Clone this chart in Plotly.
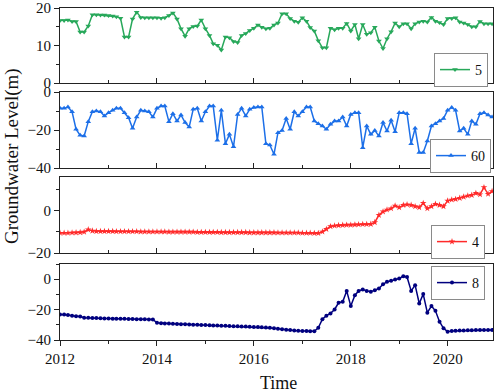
import pandas as pd
import plotly.graph_objects as go

dates = pd.date_range("2012-01-01", periods=108, freq="MS")

well_names = ["5", "60", "4", "8"]

lvl_5 = [16.7, 16.7, 16.8, 16.4, 16.4, 13.6, 13.6, 15.2, 18.2, 18.2,
         18.1, 18.1, 18.0, 17.9, 17.7, 17.3, 12.3, 12.3, 17.1, 18.9,
         17.5, 17.4, 17.4, 17.4, 17.4, 17.3, 17.4, 18.0, 18.7, 17.1,
         14.5, 12.5, 14.5, 15.1, 15.2, 16.8, 14.5, 12.7, 10.5, 10.1,
         8.8, 12.3, 12.1, 11.1, 10.8, 12.7, 13.2, 14.0, 14.6, 15.5,
         14.9, 14.5, 14.6, 15.5, 16.0, 18.5, 18.5, 17.2, 16.5, 16.2,
         17.4, 16.5, 14.8, 13.9, 11.3, 9.4, 9.4, 14.6, 14.2, 14.6,
         14.6, 15.9, 13.9, 15.6, 11.8, 15.6, 13.0, 13.4, 14.9, 11.2,
         9.2, 11.8, 13.7, 16.0, 15.0, 15.8, 15.8, 14.5, 15.8, 16.3,
         16.5, 16.3, 17.5, 16.5, 16.1, 15.6, 17.2, 17.2, 17.4, 16.3,
         16.0, 15.6, 15.0, 15.0, 16.4, 15.8, 15.8, 15.8]

lvl_60 = [-8.6, -8.6, -7.9, -10.4, -19.6, -22.8, -23.2, -15.6, -10.4, -10.0,
          -10.4, -12.6, -10.9, -9.6, -8.6, -8.6, -10.9, -13.5, -19.1, -13.2,
          -9.6, -10.0, -10.4, -13.2, -8.6, -7.4, -7.4, -15.6, -11.4, -15.3,
          -12.1, -16.1, -18.4, -9.1, -8.6, -15.3, -10.4, -7.4, -7.4, -25.4,
          -9.6, -27.2, -22.3, -28.8, -11.8, -8.6, -12.6, -9.1, -8.2, -7.9,
          -7.9, -27.2, -27.9, -32.8, -21.4, -20.2, -13.9, -19.6, -10.4, -12.6,
          -10.4, -7.9, -7.9, -15.3, -16.7, -17.9, -19.6, -17.0, -15.3, -15.3,
          -13.2, -17.9, -11.8, -10.9, -10.9, -29.3, -17.9, -22.3, -20.2, -23.2,
          -16.1, -20.5, -14.9, -20.9, -10.9, -10.9, -11.4, -27.2, -19.1, -31.9,
          -31.9, -25.8, -17.9, -16.7, -15.3, -13.9, -9.6, -8.2, -9.6, -20.5,
          -19.1, -22.3, -15.3, -17.0, -11.4, -10.9, -12.1, -13.2]

lvl_4 = [-10.6, -10.6, -10.6, -10.5, -10.4, -10.3, -10.1, -9.0, -9.6, -9.8,
         -9.8, -9.8, -9.8, -9.8, -9.9, -9.9, -9.9, -9.9, -9.9, -9.9,
         -10.0, -10.0, -10.0, -10.0, -10.0, -10.0, -10.0, -10.1, -10.1, -10.1,
         -10.1, -10.1, -10.1, -10.1, -10.2, -10.2, -10.2, -10.2, -10.2, -10.2,
         -10.3, -10.3, -10.3, -10.3, -10.3, -10.3, -10.3, -10.4, -10.4, -10.4,
         -10.4, -10.4, -10.4, -10.4, -10.5, -10.5, -10.5, -10.5, -10.5, -10.5,
         -10.6, -10.6, -10.6, -10.7, -10.7, -10.0, -8.8, -7.5, -7.2, -7.0,
         -6.9, -6.8, -6.8, -6.7, -6.6, -6.5, -6.5, -6.4, -5.6, -2.2,
         -0.6, 0.3, 0.9, 2.2, 1.4, 2.5, 2.8, 2.5, 1.9, 1.4,
         3.4, 0.9, 1.9, 3.0, 2.5, 1.9, 4.5, 5.0, 5.3, 5.8,
         6.4, 6.9, 7.2, 8.1, 7.5, 10.8, 7.7, 9.0]

lvl_8 = [-23.2, -23.2, -23.5, -24.0, -24.3, -24.5, -25.4, -25.4, -25.5, -25.6,
         -25.7, -25.8, -25.9, -26.0, -26.0, -26.0, -26.1, -26.2, -26.2, -26.3,
         -26.4, -26.4, -26.5, -26.5, -28.7, -29.0, -29.1, -29.2, -29.3, -29.5,
         -29.6, -29.7, -29.8, -29.9, -30.0, -30.1, -30.2, -30.3, -30.4, -30.5,
         -30.6, -30.7, -30.8, -30.9, -31.0, -31.1, -31.2, -31.3, -31.4, -31.5,
         -31.6, -31.7, -31.9, -32.2, -32.6, -33.0, -33.3, -33.5, -33.7, -33.9,
         -34.0, -34.1, -34.2, -34.3, -32.0, -26.3, -24.0, -22.5, -19.9, -15.5,
         -14.9, -7.7, -17.7, -10.5, -7.7, -6.8, -7.7, -8.3, -7.2, -6.1,
         -3.3, -1.7, -1.1, -0.2, 0.4, 2.0, 1.5, -7.7, -3.9, -16.0,
         -9.8, -22.0, -17.7, -20.8, -28.0, -32.3, -34.5, -34.0, -33.9, -33.8,
         -33.7, -33.6, -33.6, -33.5, -33.5, -33.5, -33.5, -33.4]

series = [lvl_5, lvl_60, lvl_4, lvl_8]
colors = ["#27A85A", "#1C6FE8", "#FF2A2A", "#00007F"]
symbols = ["triangle-down", "triangle-up", "star", "circle"]
msizes = [5, 5, 5, 4]

y_ranges = [[0, 20], [-40, 0], [-20, 15.7], [-40, 10]]
y_dticks = [10, 20, 20, 20]
y_minor = [5, 10, 10, 10]

# panel pixel geometry -> paper domains (plot area: 60..493 x, 8..340 y)
H_TOP, H_BOT = 8, 340
panels_px = [(8, 83), (92, 168), (177, 253), (264, 340)]
def py(p):
    return (H_BOT - p) / (H_BOT - H_TOP)

FONT = "Liberation Serif"
fig = go.Figure()

# legend box centres (pixels)
legend_pos = [
    dict(x=(488 - 60) / 433, y=py(70)),
    dict(x=(491 - 60) / 433, y=py(156)),
    dict(x=(485 - 60) / 433, y=py(242)),
    dict(x=(485 - 60) / 433, y=py(283)),
]

layout = dict(
    template="none",
    width=498, height=392,
    margin=dict(l=60, r=5, t=8, b=52, autoexpand=False),
    paper_bgcolor="white", plot_bgcolor="white",
    font=dict(family=FONT, size=15, color="#111"),
    showlegend=True,
)

for k in range(4):
    suffix = "" if k == 0 else str(k + 1)
    lg = "legend" if k == 0 else f"legend{k+1}"
    fig.add_trace(go.Scatter(
        x=dates, y=series[k], name=well_names[k], mode="lines+markers",
        line=dict(color=colors[k], width=1.5),
        marker=dict(symbol=symbols[k], size=msizes[k], color=colors[k]),
        xaxis="x" + suffix, yaxis="y" + suffix, legend=lg,
    ))
    top, bot = panels_px[k]
    last = (k == 3)
    layout["xaxis" + suffix] = dict(
        domain=[0, 1], anchor="y" + suffix, automargin=False,
        type="date", range=["2012-01-01", "2020-12-08"],
        showgrid=False, zeroline=False,
        showline=True, linecolor="#222", linewidth=1, mirror=True,
        dtick="M24", tick0="2012-01-01", tickformat="%Y",
        ticks="outside" if last else "inside", ticklen=5, tickcolor="#222",
        showticklabels=last,
        tickfont=dict(family=FONT, size=15, color="#111"),
        minor=dict(dtick="M12", ticks="outside" if last else "inside",
                   ticklen=3, tickcolor="#222", showgrid=False),
        **({} if k == 0 else {"matches": "x"}),
    )
    layout["yaxis" + suffix] = dict(
        domain=[py(bot), py(top)], anchor="x" + suffix, automargin=False,
        range=y_ranges[k], dtick=y_dticks[k], tick0=0,
        showgrid=False, zeroline=False,
        showline=True, linecolor="#222", linewidth=1, mirror=True,
        ticks="outside", ticklen=5, tickcolor="#222",
        ticklabeloverflow="allow",
        tickfont=dict(family=FONT, size=15, color="#111"),
        minor=dict(dtick=y_minor[k], ticks="outside", ticklen=3,
                   tickcolor="#222", showgrid=False),
    )
    lp = legend_pos[k]
    layout[lg] = dict(
        x=lp["x"], y=lp["y"], xanchor="right", yanchor="middle",
        xref="paper", yref="paper",
        bgcolor="white", bordercolor="#8a8a8a", borderwidth=1,
        font=dict(family=FONT, size=14, color="#111"),
        itemwidth=30, tracegroupgap=0,
    )

layout["annotations"] = [
    dict(text="Groundwater Level(m)", xref="paper", yref="paper",
         x=(12 - 60) / 433, y=py(156), textangle=-90, showarrow=False,
         xanchor="center", yanchor="middle",
         font=dict(family=FONT, size=19, color="#111")),
    dict(text="Time", xref="paper", yref="paper",
         x=(278 - 60) / 433, y=py(383), showarrow=False,
         xanchor="center", yanchor="middle",
         font=dict(family=FONT, size=18, color="#111")),
]

fig.update_layout(**layout)
fig.write_html("out.html", config={"displayModeBar": False},
               post_script="document.body.style.margin='0';document.body.style.overflow='hidden';")
